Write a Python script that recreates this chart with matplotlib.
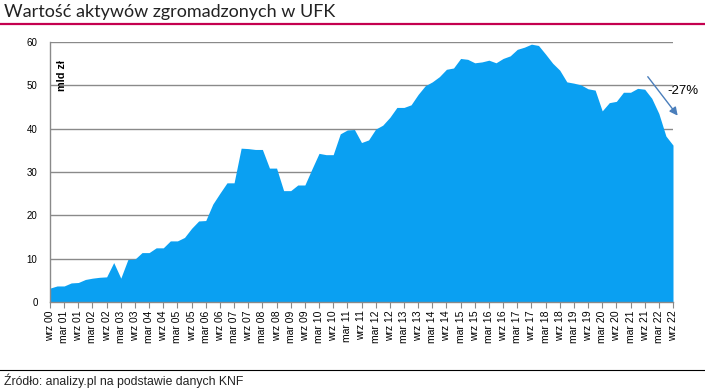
import numpy as np
import matplotlib
matplotlib.use('Agg')
import matplotlib.pyplot as plt

# Wartość aktywów UFK, mld zł (dane kwartalne, wrz 2000 - wrz 2022)
values = [3.2, 3.7, 3.7, 4.4, 4.5, 5.2, 5.5, 5.7, 5.8, 9.1,
          5.5, 9.8, 9.9, 11.4, 11.4, 12.5, 12.5, 14.1, 14.1, 14.9,
          17.0, 18.7, 18.8, 22.6, 25.1, 27.5, 27.5, 35.5, 35.4, 35.2,
          35.2, 30.9, 30.9, 25.7, 25.7, 27.0, 27.0, 30.7, 34.3, 34.0,
          34.0, 38.8, 39.7, 39.8, 36.8, 37.4, 39.9, 40.8, 42.6, 44.9,
          44.9, 45.5, 47.9, 49.9, 50.8, 52.0, 53.7, 54.0, 56.2, 56.0,
          55.2, 55.4, 55.8, 55.2, 56.2, 56.8, 58.3, 58.8, 59.5, 59.2,
          57.2, 55.1, 53.5, 50.8, 50.5, 50.1, 49.2, 48.9, 44.1, 46.0,
          46.3, 48.4, 48.4, 49.3, 49.1, 47.0, 43.5, 38.3, 36.2]

tick_labels = ['wrz 00', 'mar 01', 'wrz 01', 'mar 02', 'wrz 02', 'mar 03', 'wrz 03',
               'mar 04', 'wrz 04', 'mar 05', 'wrz 05', 'mar 06', 'wrz 06', 'mar 07',
               'wrz 07', 'mar 08', 'wrz 08', 'mar 09', 'wrz 09', 'mar 10', 'wrz 10',
               'mar 11', 'wrz 11', 'mar 12', 'wrz 12', 'mar 13', 'wrz 13', 'mar 14',
               'wrz 14', 'mar 15', 'wrz 15', 'mar 16', 'wrz 16', 'mar 17', 'wrz 17',
               'mar 18', 'wrz 18', 'mar 19', 'wrz 19', 'mar 20', 'wrz 20', 'mar 21',
               'wrz 21', 'mar 22', 'wrz 22']

change_label = '-27%'

plt.rcParams['font.family'] = ['Liberation Sans', 'DejaVu Sans']

x = np.arange(len(values))

fig = plt.figure(figsize=(7.05, 3.9), dpi=100)
ax = fig.add_axes([50 / 705, 88 / 390, 623 / 705, 260 / 390])

ax.fill_between(x, values, 0, color='#0AA0F2', linewidth=0, zorder=2)

ax.set_xlim(0, len(values) - 1)
ax.set_ylim(0, 60)
ax.set_yticks(range(0, 61, 10))
ax.yaxis.grid(True, color='#8a8a8a', linewidth=1)
ax.set_axisbelow(True)
ax.tick_params(axis='y', length=0, pad=9, labelsize=7, colors='black')

ax.set_xticks(x[::2])
ax.set_xticklabels(tick_labels, rotation=90, fontsize=7.5)
ax.tick_params(axis='x', length=4, width=0.8, color='#8a8a8a', pad=2)

for s in ['top', 'right']:
    ax.spines[s].set_visible(False)
for s in ['left', 'bottom']:
    ax.spines[s].set_color('#8a8a8a')
    ax.spines[s].set_linewidth(1)
    ax.spines[s].set_zorder(3)

ax.text(0.012, 0.93, 'mld zł', transform=ax.transAxes, rotation=90,
        ha='left', va='top', fontsize=7.8, fontweight='bold')

# strzałka spadku
ax.annotate('', xy=(88.9, 42.5), xytext=(84.2, 52.5),
            arrowprops=dict(arrowstyle='-|>', color='#4A7EBB', lw=1,
                            mutation_scale=12), annotation_clip=False)
ax.text(87.2, 48.8, change_label, fontsize=9.5, ha='left', va='center')

# tytuł i stopka
fig.text(4 / 705, 1 - 17 / 390, 'Wartość aktywów zgromadzonych w UFK',
         fontsize=13, family=['Lato', 'DejaVu Sans'], color='#222222',
         va='baseline', ha='left')
fig.add_artist(plt.Line2D([0, 1], [1 - 24 / 390] * 2, color='#C4004F', lw=1.6))
fig.add_artist(plt.Line2D([0, 1], [1 - 370 / 390] * 2, color='black', lw=0.8))
fig.text(4 / 705, 1 - 385 / 390, 'Źródło: analizy.pl na podstawie danych KNF',
         fontsize=8.8, va='baseline', ha='left', color='#222222')

fig.savefig('out.png', dpi=100)
